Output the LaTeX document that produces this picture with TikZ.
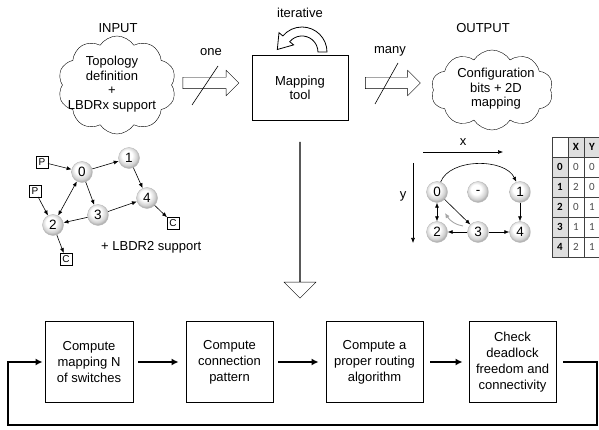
\documentclass[tikz,border=0pt]{standalone}
\usepackage{fontspec}
\setmainfont{Liberation Sans}
\newfontfamily\tablefont{Carlito}
\usetikzlibrary{shapes.symbols,shapes.arrows,arrows.meta}

% light pearl-like shading for the switch beads
\pgfdeclareradialshading{pearl}{\pgfpoint{-6bp}{8bp}}{%
  color(0bp)=(white); color(12bp)=(white); color(22bp)=(gray!35);
  color(27bp)=(gray!65); color(50bp)=(gray!65)}

\begin{document}
\begin{tikzpicture}[x=1pt,y=-1pt,
  txt/.style={font=\fontsize{13}{14.5}\selectfont, align=center, inner sep=0},
  puff/.style={cloud, draw, cloud puffs=10, cloud puff arc=115, cloud ignores aspect, inner sep=0},
  blockarrow/.style={single arrow, draw, fill=white, inner sep=0, single arrow tip angle=90},
  bead/.style={circle, minimum size=21, inner sep=0, shading=pearl, draw=gray!55, line width=0.4,
    font=\fontsize{13.5}{13.5}\selectfont},
  tag/.style={draw, fill=white, minimum size=11.5, inner sep=0, font=\fontsize{10}{10}\selectfont},
  edge/.style={-{Latex[length=5,width=4]}, line width=0.6},
  biedge/.style={{Latex[length=5,width=4]}-{Latex[length=5,width=4]}, line width=0.6},
  stepbox/.style={draw, line width=0.9, minimum height=81, inner sep=0,
    font=\fontsize{13}{16}\selectfont, align=center},
  flow/.style={-{Latex[length=7,width=7]}, line width=1.8},
  cell/.style={draw=black!75, line width=0.8, minimum width=16, minimum height=20, inner sep=0,
    font=\tablefont\fontsize{11}{11}\selectfont},
  hcell/.style={cell, fill=gray!25, font=\tablefont\bfseries\fontsize{11}{11}\selectfont}
]
\useasboundingbox (0,0) rectangle (599,430);

% ---- input cloud ----
\node[txt] (inlabel) at (118,28) {INPUT};
\node[puff, minimum width=118, minimum height=98] (incloud) at (117,85) {};
\node[txt] (intext) at (112,84) {Topology\\definition\\+\\LBDRx support};

% ---- one / many arrows ----
\node[blockarrow, minimum height=56, minimum width=25, single arrow head extend=7,
      inner ysep=5.5] (onearrow) at (208,83) {};
\draw[line width=0.6] (192,105) -- (218,66);
\node[txt] (onelabel) at (211,52) {one};

\node[blockarrow, minimum height=55, minimum width=25, single arrow head extend=7,
      inner ysep=5.5] (manyarrow) at (390,83) {};
\draw[line width=0.6] (375,104) -- (398,63);
\node[txt] (manylabel) at (390,51) {many};

% ---- mapping tool ----
\node[draw, line width=0.8, minimum width=96, minimum height=65, txt] (tool) at (300,88)
  {Mapping\\tool};
\node[txt] (iterlabel) at (300,13) {iterative};
% curved hollow arrow over the tool
\draw[line width=0.8, fill=white]
  (327,52) arc[start angle=0, end angle=-140, radius=25]
  -- (279.0,32.7) -- (277.3,49.5) -- (293.6,44.9) -- (289.7,41.7)
  arc[start angle=-140, end angle=0, radius=16] -- cycle;

% ---- output cloud ----
\node[txt] (outlabel) at (483,28) {OUTPUT};
\node[puff, minimum width=122, minimum height=80] (outcloud) at (492,90) {};
\node[txt] (outtext) at (496,89) {Configuration\\bits + 2D\\mapping};

% ---- big down arrow ----
\node[blockarrow, shape border rotate=270, minimum height=156, minimum width=32,
      single arrow head extend=8, inner ysep=8] (down) at (300,220) {};

% ---- topology graph ----
\node[bead] (a0) at (82,172) {0};
\node[bead] (a1) at (129,158) {1};
\node[bead] (a2) at (53,225) {2};
\node[bead] (a3) at (98,215) {3};
\node[bead] (a4) at (147,198) {4};
\node[tag] (p1) at (42,162) {P};
\node[tag] (p2) at (35,191) {P};
\node[tag] (c1) at (173,223) {C};
\node[tag] (c2) at (66,259) {C};
\draw[edge] (p1) -- (a0);
\draw[edge] (p2) -- (a2);
\draw[edge] (a0) -- (a1);
\draw[edge] (a1) -- (a4);
\draw[edge] (a0) -- (a3);
\draw[biedge] (a0) -- (a2);
\draw[edge] (a3) -- (a4);
\draw[edge] (a3) -- (a2);
\draw[edge] (a2) -- (c2);
\draw[edge] (a4) -- (c1);
\node[txt, anchor=west] (lbdr) at (101,247) {+ LBDR2 support};

% ---- 2D mapping ----
\coordinate (xs) at (423,152);
\coordinate (xe) at (503,152);
\coordinate (ys) at (413,163);
\coordinate (ye) at (413,243);
\draw[edge] (xs) -- (xe);
\draw[edge] (ys) -- (ye);
\node[txt] (xlabel) at (463,142) {x};
\node[txt] (ylabel) at (403,196) {y};
\node[bead] (m0) at (437,192) {0};
\node[bead] (md) at (478,192) {-};
\node[bead] (m1) at (520,192) {1};
\node[bead] (m2) at (437,232) {2};
\node[bead] (m3) at (478,232) {3};
\node[bead] (m4) at (520,232) {4};
\draw[edge] (m0.70) .. controls (450,158) and (505,158) .. (m1.110);
\draw[edge] (m1) -- (m4);
\draw[biedge] (m0) -- (m2);
\draw[edge] (m0) -- (m3);
\draw[edge] (m3) -- (m2);
\draw[edge] (m3) -- (m4);
\coordinate (gs) at (463,226);
\coordinate (ge) at (445,213);
\draw[gray!70, line width=0.9, -{Latex[length=5,width=4.5]}] (gs) .. controls (456,225) and (450,221) .. (ge);

% ---- coordinate table ----
\node[cell, fill=white] (t-h-0) at (560,147) {};
\node[hcell] (t-h-1) at (576,147) {X};
\node[hcell] (t-h-2) at (592,147) {Y};
\foreach \r/\xv/\yv [count=\i from 0] in {0/0/0,1/2/0,2/0/1,3/1/1,4/2/1}{
  \node[hcell] (t-\i-0) at (560,167+20*\i) {\r};
  \node[cell, text=black!70] (t-\i-1) at (576,167+20*\i) {\xv};
  \node[cell, text=black!70] (t-\i-2) at (592,167+20*\i) {\yv};
}

% ---- iteration loop ----
\node[stepbox, minimum width=88] (s1) at (89,362) {Compute\\mapping N\\of switches};
\node[stepbox, minimum width=87] (s2) at (229.5,362) {Compute\\connection\\pattern};
\node[stepbox, minimum width=97] (s3) at (374.5,362) {Compute a\\proper routing\\algorithm};
\node[stepbox, minimum width=87] (s4) at (512.5,362) {Check\\deadlock\\freedom and\\connectivity};
\draw[flow, shorten <=5, shorten >=7] (s1) -- (s2);
\draw[flow, shorten <=5, shorten >=7] (s2) -- (s3);
\draw[flow, shorten <=7, shorten >=6] (s3) -- (s4);
\coordinate (loopR) at (597,425);
\coordinate (loopL) at (8,425);
\draw[flow, line join=miter, shorten >=2] ([xshift=7]s4.east) -- (s4.east -| loopR) -- (loopR)
  -- (loopL) -- (s1.west -| loopL) -- (s1.west);
\end{tikzpicture}
\end{document}
